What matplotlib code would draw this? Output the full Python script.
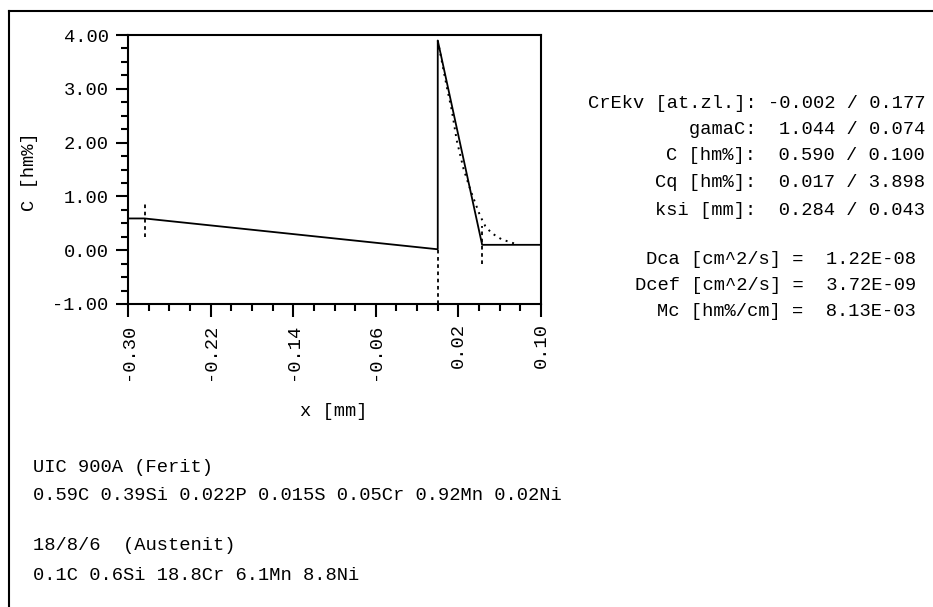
import matplotlib
matplotlib.use("Agg")
import matplotlib.pyplot as plt
from matplotlib.lines import Line2D
from matplotlib.ticker import MultipleLocator, FixedLocator, FormatStrFormatter

# --- DATOS ---
# perfil calculado (linea continua)
x_perfil = [-0.300, -0.284, 0.000, 0.000, 0.043, 0.100]
c_perfil = [0.590, 0.590, 0.017, 3.898, 0.100, 0.100]

# perfil medido (puntos)
x_medido = [0.000, 0.0087, 0.0136, 0.0184, 0.025, 0.032, 0.041, 0.046, 0.052, 0.062, 0.075]
c_medido = [3.898, 3.04, 2.60, 2.04, 1.51, 1.10, 0.64, 0.45, 0.32, 0.20, 0.12]

# marcas verticales (x, y_min, y_max)
marcas_x = [-0.284, 0.000, 0.043]
marcas_ymin = [0.25, -1.00, -0.25]
marcas_ymax = [0.90, 0.00, 0.45]

x_ticks = [-0.30, -0.22, -0.14, -0.06, 0.02, 0.10]
y_ticks = [-1.0, 0.0, 1.0, 2.0, 3.0, 4.0]

# parametros (ferit / austenit)
param_nombres = ["CrEkv [at.zl.]:", "gamaC:", "C [hm%]:", "Cq [hm%]:", "ksi [mm]:"]
param_ferit = [-0.002, 1.044, 0.590, 0.017, 0.284]
param_austenit = [0.177, 0.074, 0.100, 3.898, 0.043]

coef_nombres = ["Dca [cm^2/s] =", "Dcef [cm^2/s] =", "Mc [hm%/cm] ="]
coef_valores = [1.22e-08, 3.72e-09, 8.13e-03]

materiales = [
    "UIC 900A (Ferit)",
    "0.59C 0.39Si 0.022P 0.015S 0.05Cr 0.92Mn 0.02Ni",
    "18/8/6  (Austenit)",
    "0.1C 0.6Si 18.8Cr 6.1Mn 8.8Ni",
]

# --- FIGURA ---
W, H = 933, 607
FUENTE = "Liberation Mono"
TAM = 13.5
plt.rcParams["font.family"] = FUENTE
plt.rcParams["axes.unicode_minus"] = False

fig = plt.figure(figsize=(W / 100, H / 100), dpi=100)


def px(x, y):
    # pixeles (desde arriba a la izquierda) -> fraccion de figura
    return x / W, 1 - y / H


izq, der, arr, aba = 128, 541, 35, 304
ax = fig.add_axes([izq / W, 1 - aba / H, (der - izq) / W, (aba - arr) / H])

ax.plot(x_perfil, c_perfil, color="black", lw=1.3)
ax.plot(x_medido, c_medido, color="black", lw=1.4, linestyle=(0, (1, 2.5)))
for xm, y0, y1 in zip(marcas_x, marcas_ymin, marcas_ymax):
    ax.plot([xm, xm], [y0, y1], color="black", lw=1.3, linestyle=(0, (2, 2)))

ax.set_xlim(-0.30, 0.10)
ax.set_ylim(-1.0, 4.0)
ax.xaxis.set_major_locator(FixedLocator(x_ticks))
ax.xaxis.set_minor_locator(MultipleLocator(0.02))
ax.yaxis.set_major_locator(FixedLocator(y_ticks))
ax.yaxis.set_minor_locator(MultipleLocator(0.25))
ax.xaxis.set_major_formatter(FormatStrFormatter("%.2f"))
ax.yaxis.set_major_formatter(FormatStrFormatter("%.2f"))

for s in ax.spines.values():
    s.set_linewidth(1.5)
ax.tick_params(which="major", length=9, width=1.5, labelsize=TAM, direction="out")
ax.tick_params(which="minor", length=5, width=1.5, direction="out")
ax.tick_params(axis="x", which="major", pad=5, labelrotation=90)
ax.tick_params(axis="y", which="major", pad=5)

# etiquetas de ejes
fig.text(*px(30, 172), "C [hm%]", rotation=90, ha="center", va="center", fontsize=TAM)
fig.text(*px(334, 412), "x [mm]", ha="center", va="center", fontsize=TAM)

# bloque de parametros a la derecha
filas_y = [103, 130, 156, 183, 210]
for nombre, vf, va_, yy in zip(param_nombres, param_ferit, param_austenit, filas_y):
    txt = f"{nombre} {vf:6.3f} / {va_:.3f}"
    fig.text(*px(925, yy), txt, ha="right", va="center", fontsize=TAM)

filas_y2 = [259, 285, 311]
for nombre, v, yy in zip(coef_nombres, coef_valores, filas_y2):
    fig.text(*px(916, yy), f"{nombre}  {v:.2E}", ha="right", va="center", fontsize=TAM)

# texto de materiales
for linea, yy in zip(materiales, [467, 496, 546, 575]):
    fig.text(*px(33, yy), linea, ha="left", va="center", fontsize=TAM)

# marco exterior (solo izquierda y arriba)
fig.add_artist(Line2D([9 / W, 9 / W], [0, 1 - 11 / H], color="black", lw=1.5,
                      transform=fig.transFigure))
fig.add_artist(Line2D([9 / W, 1], [1 - 11 / H, 1 - 11 / H], color="black", lw=1.5,
                      transform=fig.transFigure))

fig.savefig("out.png", dpi=100)
